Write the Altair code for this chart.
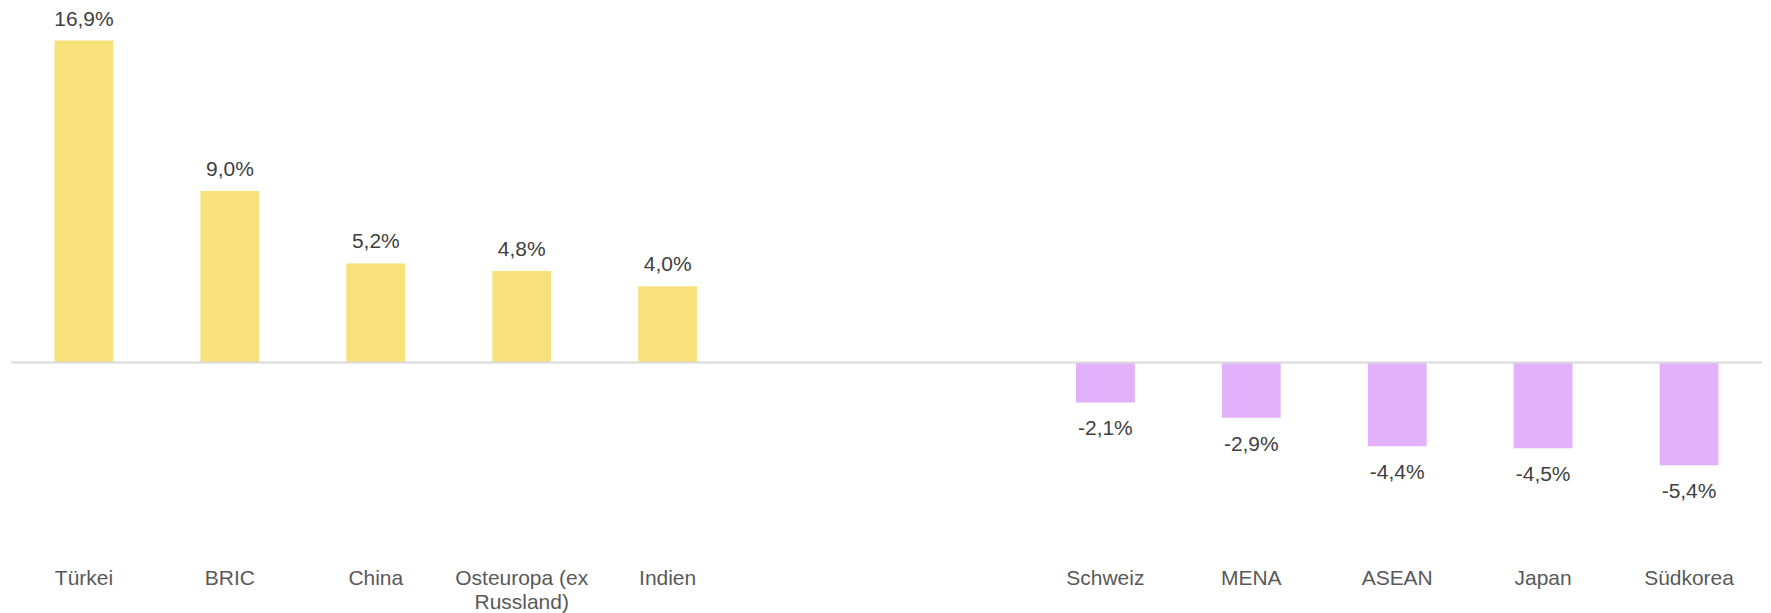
import altair as alt
import pandas as pd

categories = ["Türkei", "BRIC", "China", "Osteuropa (ex Russland)", "Indien",
              "gap1", "gap2",
              "Schweiz", "MENA", "ASEAN", "Japan", "Südkorea"]
values = [16.9, 9.0, 5.2, 4.8, 4.0, None, None, -2.1, -2.9, -4.4, -4.5, -5.4]
labels = ["16,9%", "9,0%", "5,2%", "4,8%", "4,0%", "", "",
          "-2,1%", "-2,9%", "-4,4%", "-4,5%", "-5,4%"]

rows = [
    {"cat": c, "val": v, "lab": l, "sign": ("pos" if v >= 0 else "neg")}
    for c, v, l in zip(categories, values, labels) if v is not None
]
df = pd.DataFrame(rows)

FONT = "Liberation Sans"

x = alt.X(
    "cat:N",
    sort=categories,
    scale=alt.Scale(domain=categories, paddingInner=0.597, paddingOuter=0.2985),
    axis=alt.Axis(
        title=None, domain=False, ticks=False, grid=False,
        labelAngle=0, labelFont=FONT, labelFontSize=21, labelColor="#595959",
        labelPadding=3, labelLineHeight=24, labelBaseline="top",
        labelExpr="indexof(datum.label, 'gap') == 0 ? '' : (datum.label == 'Osteuropa (ex Russland)' ? ['Osteuropa (ex', 'Russland)'] : datum.label)",
    ),
)
y_scale = alt.Scale(domain=[-10.62, 18.33], nice=False, zero=False)
y = alt.Y("val:Q", scale=y_scale, axis=None)

bars = alt.Chart(df).mark_bar().encode(
    x=x, y=y, y2=alt.datum(0),
    color=alt.Color("sign:N", scale=alt.Scale(domain=["pos", "neg"], range=["#F8E17B", "#E3B0FB"]), legend=None),
)

zero = alt.Chart(pd.DataFrame({"z": [0]})).mark_rule(color="#d9d9d9", strokeWidth=2).encode(
    y=alt.Y("z:Q", scale=y_scale, axis=None)
)

pos_text = alt.Chart(df[df["val"] >= 0]).mark_text(
    font=FONT, fontSize=21, color="#404040", baseline="alphabetic", dy=-15
).encode(x=x, y=y, text="lab:N")

neg_text = alt.Chart(df[df["val"] < 0]).mark_text(
    font=FONT, fontSize=21, color="#404040", baseline="alphabetic", dy=33
).encode(x=x, y=y, text="lab:N")

chart = alt.layer(bars, zero, pos_text, neg_text).properties(
    width=1753, height=552,
    background="white",
    padding={"left": 2, "top": 0, "right": 0, "bottom": 0},
).configure_view(stroke=None, strokeWidth=0)

chart.save("out.html", embed_options={"renderer": "svg", "actions": False})
